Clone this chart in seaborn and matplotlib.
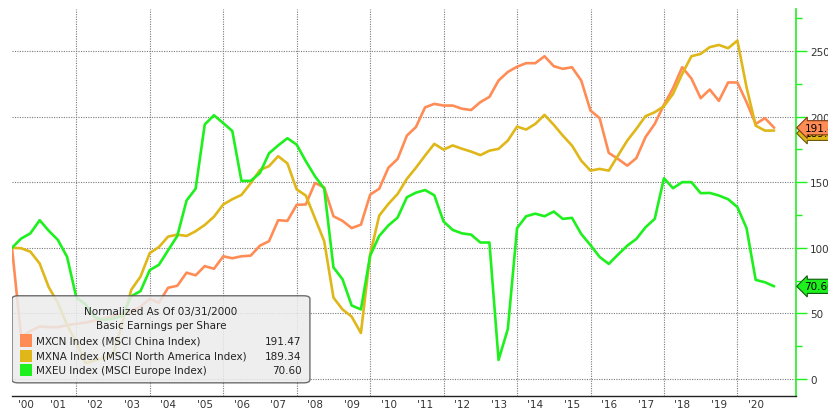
import numpy as np
import pandas as pd
import matplotlib
matplotlib.use("Agg")
import matplotlib.pyplot as plt
import matplotlib.transforms as mtransforms
from matplotlib.patches import FancyBboxPatch, Rectangle
import seaborn as sns

# quarterly EPS, normalized to 100 at 03/31/2000
dates = pd.date_range("2000-03-31", periods=84, freq="QE")

mxcn = [100, 32, 36.5, 40, 39.5, 39.5, 41, 42, 43, 44.5,
        46, 48, 49.5, 51.5, 55, 61, 58, 69.5, 71, 81,
        79, 86, 84, 93.5, 92, 93.5, 94, 101.6, 105, 121,
        120.5, 132.7, 133, 149.4, 146, 124, 120.5, 115, 117.6, 140.5,
        145, 161, 167.7, 185.5, 192, 207, 209.7, 208.4, 208.4, 206,
        205, 211, 215, 227.5, 234, 238, 240.7, 240.7, 246, 238.4,
        236.4, 237.6, 227.5, 204.6, 198.8, 172.3, 167.7, 162.6, 168.3, 184.3,
        194.4, 209, 221.6, 237.6, 229, 214, 220.6, 212, 226, 226,
        211, 194.4, 198.8, 191.47]

mxna = [100, 99.6, 97, 88, 70, 58, 41, 28, 12, 14,
        16, 18.5, 42, 68, 78, 96, 100.5, 108.5, 110, 109,
        112.6, 117.4, 123.7, 133, 137, 140.3, 149.2, 159.3, 162.2, 169.8,
        164.3, 144.5, 139.8, 122.5, 105, 62, 53, 47.5, 35, 95,
        124.5, 133.4, 141, 152.5, 161, 170.3, 179.2, 174.8, 178, 175.5,
        173.3, 170.6, 174, 175.4, 181.7, 192.4, 190.1, 194.4, 201.3, 193.7,
        185.5, 177.9, 166.4, 158.8, 160.1, 158.8, 170.3, 181.7, 190.6, 200.3,
        203.3, 207.9, 217.3, 232.5, 246, 247.8, 252.9, 254.6, 252.1, 257.9,
        222.4, 193.1, 189.3, 189.34]

mxeu = [100, 107, 111, 121, 113, 106, 93, 62, 57, 47,
        45, 46, 48, 63, 67, 83, 87, 98, 109, 136,
        145, 194, 201, 195, 189, 151, 151, 157, 172, 178,
        183.5, 178.6, 166, 154.5, 145, 85, 76, 56, 53, 94,
        109, 117, 123, 138.5, 142, 144, 140, 120, 113.6, 111,
        110, 104, 104, 14.5, 38, 115, 124, 126, 124, 127.6,
        122, 122.8, 110.5, 102, 93, 87.7, 94.8, 101.6, 106.7, 115.6,
        122, 153, 145.4, 150, 150, 141.6, 141.8, 139.8, 137, 131,
        115, 75.5, 73.7, 70.60]

tickers = ["MXCN Index", "MXNA Index", "MXEU Index"]
full_names = ["MSCI China Index", "MSCI North America Index", "MSCI Europe Index"]
colors = ["#ff8c55", "#dfb719", "#1ef01e"]
edge_colors = ["#7a3a14", "#6b560a", "#0b5a0b"]
year_labels = ["'%02d" % (y % 100) for y in range(2000, 2021)]

df = pd.DataFrame({
    "date": np.tile(dates, 3),
    "value": np.concatenate([mxcn, mxna, mxeu]),
    "series": np.repeat(tickers, len(dates)),
})

sns.set_style("white")
plt.rcParams["font.family"] = ["DejaVu Sans"]

fig = plt.figure(figsize=(8.29, 4.14), dpi=100)
ax = fig.add_axes([12 / 829, 17 / 414, 784 / 829, 387 / 414])

xmin = pd.Timestamp("2000-03-31")
xmax = pd.Timestamp("2021-08-05")

# dotted grid: every 2 years vertically, every 50 horizontally
grid_kw = dict(color="#7a7a7a", ls=(0, (1.0, 1.2)), lw=0.8)
for y in range(2002, 2021, 2):
    ax.axvline(pd.Timestamp(f"{y}-01-01"), zorder=0, **grid_kw)
ax.yaxis.grid(True, which="major", **grid_kw)
ax.set_axisbelow(True)

sns.lineplot(data=df, x="date", y="value", hue="series", palette=colors,
             hue_order=tickers, linewidth=1.9, legend=False, ax=ax, zorder=3)

ax.set_xlim(xmin, xmax)
ax.set_ylim(-13, 282)
ax.set_xlabel("")
ax.set_ylabel("")

# right y axis in green
for s in ["left", "top"]:
    ax.spines[s].set_visible(False)
ax.spines["right"].set_color("#1ef01e")
ax.spines["right"].set_linewidth(1.2)
ax.spines["bottom"].set_color("#222222")
ax.spines["bottom"].set_linewidth(1.0)
ax.yaxis.tick_right()
ax.set_yticks(range(0, 251, 50))
ax.set_yticks(range(25, 276, 50), minor=True)
ax.tick_params(axis="y", which="major", direction="out", length=8, width=1,
               color="#1ef01e", labelsize=7.5, labelcolor="#333333", pad=2)
ax.tick_params(axis="y", which="minor", direction="out", length=4, width=1,
               color="#1ef01e")

# x axis: separators at year starts, labels mid-year
year_starts = [pd.Timestamp(f"{y}-01-01") for y in range(2001, 2022)]
ax.set_xticks(year_starts)
ax.set_xticklabels([])
mids = []
for y in range(2000, 2021):
    lo = max(pd.Timestamp(f"{y}-01-01"), xmin)
    hi = pd.Timestamp(f"{y + 1}-01-01")
    mids.append(lo + (hi - lo) / 2)
ax.set_xticks(mids, minor=True)
ax.set_xticklabels(year_labels, minor=True)
ax.tick_params(axis="x", which="major", direction="out", length=7, width=1,
               color="#222222")
ax.tick_params(axis="x", which="minor", length=0, labelsize=7.5,
               labelcolor="#333333", pad=2)

# legend box
lg = FancyBboxPatch((0.0, 0.034), 0.38, 0.225, transform=ax.transAxes,
                    boxstyle="round,pad=0,rounding_size=0.008",
                    facecolor="#ececec", edgecolor="#555555", lw=1.0,
                    alpha=0.85, zorder=5)
ax.add_patch(lg)
ax.text(0.19, 0.219, "Normalized As Of 03/31/2000", transform=ax.transAxes,
        ha="center", va="center", fontsize=7.5, color="#222222", zorder=6)
ax.text(0.19, 0.183, "Basic Earnings per Share", transform=ax.transAxes,
        ha="center", va="center", fontsize=7.5, color="#222222", zorder=6)
last_vals = [mxcn[-1], mxna[-1], mxeu[-1]]
row_y = [0.143, 0.104, 0.067]
for tk, nm, col, v, ry in zip(tickers, full_names, colors, last_vals, row_y):
    ax.add_patch(Rectangle((0.010, ry - 0.016), 0.016, 0.032,
                           transform=ax.transAxes, facecolor=col,
                           edgecolor="none", zorder=6))
    ax.text(0.030, ry, f"{tk} ({nm})", transform=ax.transAxes, ha="left",
            va="center", fontsize=7.5, color="#222222", zorder=6)
    ax.text(0.369, ry, f"{v:.2f}", transform=ax.transAxes, ha="right",
            va="center", fontsize=7.5, color="#222222", zorder=6)

# last-value tags on the right axis (yellow sits under orange)
trans = mtransforms.blended_transform_factory(ax.transAxes, ax.transData)
for i in [1, 0, 2]:
    v = last_vals[i]
    ax.annotate(f"{v:.2f}", xy=(1.0, v), xycoords=trans,
                xytext=(6, -2 if i == 1 else 0), textcoords="offset points",
                ha="left", va="center", fontsize=7.5, color="black",
                annotation_clip=False, zorder=7,
                bbox=dict(boxstyle="larrow,pad=0.2", facecolor=colors[i],
                          edgecolor=edge_colors[i], lw=0.8))

fig.savefig("out.png", dpi=100)
